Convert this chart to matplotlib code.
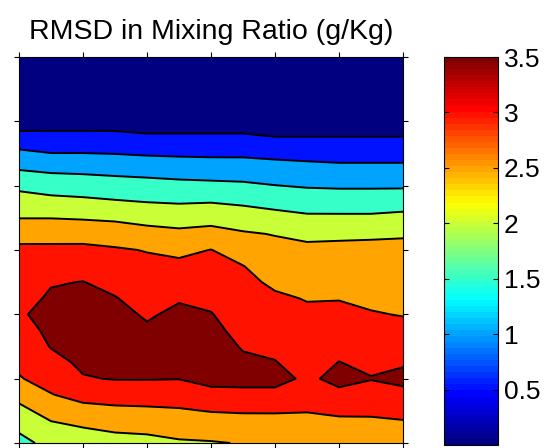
import numpy as np
import matplotlib
matplotlib.use('Agg')
import matplotlib.pyplot as plt
from matplotlib.colors import LinearSegmentedColormap, Normalize

plt.rcParams['font.family'] = ['Liberation Sans', 'DejaVu Sans']

# grid coordinates (column index across, row index top -> bottom)
x_vals = [0, 1, 2, 3, 4, 5, 6, 7, 8, 9, 10, 11, 12]
y_vals = list(range(25))

# RMSD values (g/Kg), one row per y level, top row first
rmsd = [
    [0.08, 0.08, 0.08, 0.08, 0.08, 0.08, 0.08, 0.08, 0.08, 0.08, 0.08, 0.08, 0.08],
    [0.12, 0.12, 0.12, 0.12, 0.12, 0.12, 0.12, 0.12, 0.12, 0.12, 0.12, 0.12, 0.12],
    [0.15, 0.15, 0.15, 0.15, 0.15, 0.15, 0.15, 0.15, 0.15, 0.15, 0.15, 0.15, 0.15],
    [0.19, 0.19, 0.19, 0.19, 0.19, 0.19, 0.19, 0.19, 0.19, 0.19, 0.19, 0.19, 0.19],
    [0.23, 0.28, 0.28, 0.29, 0.22, 0.25, 0.25, 0.25, 0.30, 0.30, 0.30, 0.30, 0.30],
    [0.68, 0.65, 0.65, 0.64, 0.59, 0.58, 0.58, 0.58, 0.51, 0.51, 0.51, 0.51, 0.51],
    [1.11, 1.01, 1.01, 0.99, 0.95, 0.93, 0.92, 0.92, 0.88, 0.85, 0.82, 0.82, 0.82],
    [1.49, 1.42, 1.40, 1.36, 1.33, 1.29, 1.26, 1.25, 1.20, 1.16, 1.13, 1.13, 1.13],
    [1.89, 1.79, 1.75, 1.71, 1.67, 1.63, 1.61, 1.58, 1.51, 1.46, 1.44, 1.44, 1.44],
    [2.21, 2.14, 2.10, 2.04, 1.99, 1.96, 1.98, 1.92, 1.84, 1.77, 1.76, 1.76, 1.79],
    [2.49, 2.49, 2.46, 2.42, 2.34, 2.29, 2.33, 2.25, 2.16, 2.08, 2.08, 2.08, 2.13],
    [2.81, 2.80, 2.82, 2.77, 2.67, 2.61, 2.67, 2.55, 2.48, 2.43, 2.44, 2.46, 2.47],
    [3.11, 3.12, 3.11, 3.05, 2.98, 2.89, 3.01, 2.78, 2.64, 2.57, 2.58, 2.57, 2.58],
    [3.14, 3.27, 3.32, 3.22, 3.11, 3.11, 3.13, 3.01, 2.78, 2.71, 2.71, 2.69, 2.68],
    [3.24, 3.47, 3.51, 3.38, 3.23, 3.29, 3.27, 3.10, 2.93, 2.85, 2.85, 2.80, 2.78],
    [3.34, 3.56, 3.59, 3.52, 3.34, 3.47, 3.40, 3.19, 3.06, 2.98, 2.98, 2.91, 2.88],
    [3.45, 3.63, 3.67, 3.60, 3.46, 3.57, 3.52, 3.28, 3.17, 3.07, 3.12, 3.03, 2.98],
    [3.33, 3.59, 3.75, 3.68, 3.55, 3.65, 3.60, 3.38, 3.28, 3.15, 3.25, 3.15, 3.13],
    [3.21, 3.52, 3.66, 3.68, 3.63, 3.67, 3.68, 3.47, 3.40, 3.23, 3.38, 3.27, 3.30],
    [3.09, 3.36, 3.58, 3.60, 3.59, 3.59, 3.63, 3.57, 3.52, 3.31, 3.51, 3.40, 3.46],
    [2.97, 3.17, 3.47, 3.52, 3.52, 3.51, 3.54, 3.56, 3.68, 3.40, 3.65, 3.52, 3.60],
    [2.65, 2.98, 3.16, 3.22, 3.24, 3.24, 3.46, 3.45, 3.35, 3.22, 3.37, 3.30, 3.39],
    [2.37, 2.68, 2.84, 2.89, 2.91, 2.95, 3.02, 3.04, 3.04, 3.02, 3.08, 3.07, 3.13],
    [2.09, 2.40, 2.51, 2.58, 2.63, 2.67, 2.72, 2.78, 2.79, 2.81, 2.85, 2.88, 2.90],
    [1.85, 2.15, 2.25, 2.35, 2.35, 2.45, 2.47, 2.52, 2.55, 2.60, 2.65, 2.70, 2.70],
]

levels = [0.0, 0.5, 1.0, 1.5, 2.0, 2.5, 3.0, 3.5, 4.0]
cbar_ticks = [0.5, 1.0, 1.5, 2.0, 2.5, 3.0, 3.5]
cbar_labels = ['0.5', '1', '1.5', '2', '2.5', '3', '3.5']
title = 'RMSD in Mixing Ratio (g/Kg)'

# MATLAB-style jet colormap (64 colours)
jet = LinearSegmentedColormap.from_list(
    'matlab_jet',
    [(0.0, (0, 0, 0.5)), (0.125, (0, 0, 1)), (0.375, (0, 1, 1)),
     (0.625, (1, 1, 0)), (0.875, (1, 0, 0)), (1.0, (0.5, 0, 0))], N=64)
norm = Normalize(0.0, 3.5)
fill_colors = [jet(norm(l)) for l in levels[:-1]]

fig = plt.figure(figsize=(5.52, 4.48), dpi=100)
ax = fig.add_axes([19 / 552, 5 / 448, 384 / 552, 386 / 448])

X, Y = np.meshgrid(x_vals, y_vals)
Z = np.array(rmsd)
ax.contourf(X, Y, Z, levels=levels, colors=fill_colors)
ax.contour(X, Y, Z, levels=levels[1:-1], colors='k', linewidths=1.4)

ax.set_xlim(x_vals[0], x_vals[-1])
ax.set_ylim(y_vals[-1], y_vals[0])
ax.set_xticks(x_vals[::2])
ax.set_yticks(y_vals[::4])
ax.tick_params(direction='out', top=True, right=True, bottom=True, left=True,
               labelbottom=False, labelleft=False, length=3.5, width=0.8)
for s in ax.spines.values():
    s.set_linewidth(0.8)
ax.set_title(title, fontsize=20.5, pad=13)

cax = fig.add_axes([444 / 552, 3 / 448, 54 / 552, 388 / 448])
sm = plt.cm.ScalarMappable(norm=norm, cmap=jet)
cb = fig.colorbar(sm, cax=cax, ticks=cbar_ticks)
cb.set_ticklabels(cbar_labels)
cax.minorticks_off()
cax.tick_params(direction='in', left=True, right=True, length=3.5, width=0.8,
                labelsize=19, pad=4)
cb.outline.set_linewidth(0.8)

fig.savefig('out.png', dpi=100)
